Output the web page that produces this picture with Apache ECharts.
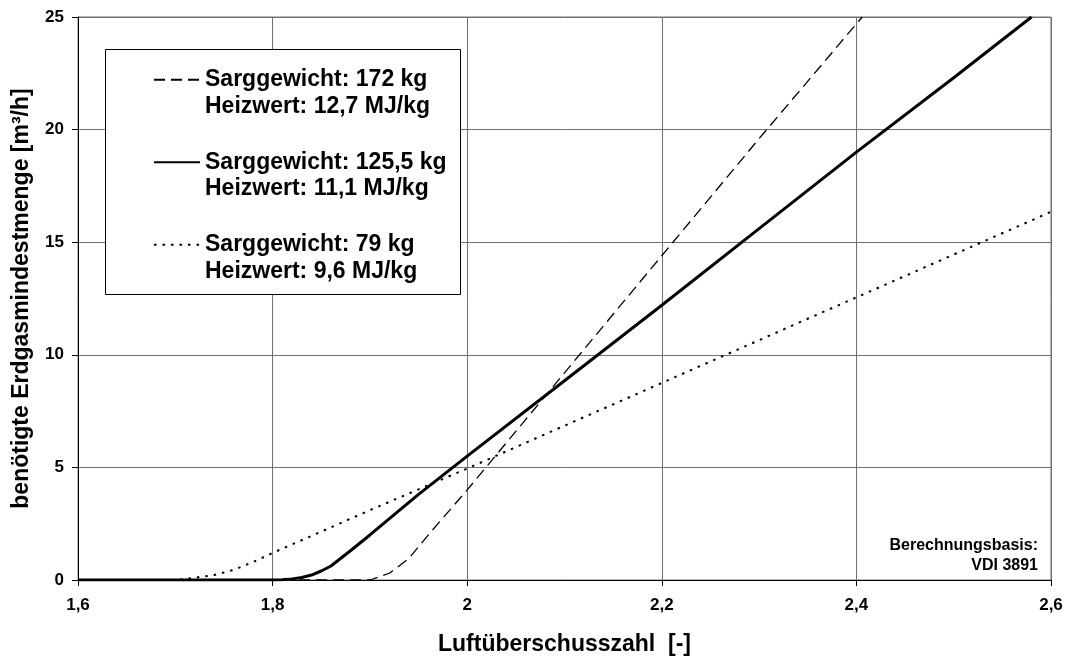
<!DOCTYPE html>
<html>
<head>
<meta charset="utf-8">
<script src="https://cdn.jsdelivr.net/npm/echarts@6/dist/echarts.min.js"></script>
<style>
  html, body { margin: 0; padding: 0; background: #fff; }
  #chart { width: 1068px; height: 661px; }
</style>
</head>
<body>
<div id="chart"></div>
<script>
// Luftüberschusszahl (x) against required natural gas flow (y) for three coffin loads
const xTicks = [1.6, 1.8, 2.0, 2.2, 2.4, 2.6];
const yTicks = [0, 5, 10, 15, 20, 25];

const seriesNames = [
  'Sarggewicht: 172 kg\nHeizwert: 12,7 MJ/kg',
  'Sarggewicht: 125,5 kg\nHeizwert: 11,1 MJ/kg',
  'Sarggewicht: 79 kg\nHeizwert: 9,6 MJ/kg'
];

// 172 kg, 12,7 MJ/kg
const heavyX = [1.6, 1.9, 1.92, 1.94, 1.96, 1.98, 2.0, 2.1, 2.2, 2.3, 2.406];
const heavyY = [0, 0, 0.3, 0.95, 2.0, 3.0, 4.0, 9.2, 14.4, 19.6, 25];

// 125,5 kg, 11,1 MJ/kg
const mediumX = [1.6, 1.8, 1.81, 1.82, 1.83, 1.84, 1.85, 1.86, 1.88, 1.9, 1.95, 2.0, 2.1, 2.2, 2.3, 2.4, 2.5, 2.58];
const mediumY = [0, 0, 0.01, 0.05, 0.11, 0.22, 0.4, 0.62, 1.3, 2.0, 3.8, 5.5, 8.85, 12.2, 15.6, 19.0, 22.3, 25];

// 79 kg, 9,6 MJ/kg
const lightX = [1.6, 1.7, 1.72, 1.74, 1.76, 1.78, 1.8, 1.9, 2.0, 2.1, 2.2, 2.3, 2.4, 2.5, 2.6];
const lightY = [0, 0, 0.1, 0.22, 0.45, 0.8, 1.2, 3.1, 4.95, 6.85, 8.75, 10.65, 12.55, 14.45, 16.35];

const noteLines = ['Berechnungsbasis:', 'VDI 3891'];

const FONT = '"Liberation Sans", Arial, sans-serif';
const GRID_COLOR = '#707070';

function pairs(xs, ys) { return xs.map((x, i) => [x, ys[i]]); }
function fmtDecimal(v) { return String(+v.toFixed(1)).replace('.', ','); }

const chart = echarts.init(document.getElementById('chart'), null, { renderer: 'canvas' });

chart.setOption({
  animation: false,
  backgroundColor: '#fff',
  textStyle: { fontFamily: FONT, color: '#000' },
  grid: {
    left: 78, right: 17, top: 17, bottom: 76,
    show: true, borderColor: GRID_COLOR, borderWidth: 1, backgroundColor: 'transparent'
  },
  xAxis: {
    type: 'value',
    min: xTicks[0], max: xTicks[xTicks.length - 1], interval: 0.2,
    name: 'Luftüberschusszahl  [-]',
    nameLocation: 'middle', nameGap: 53,
    nameTextStyle: { fontFamily: FONT, fontWeight: 'bold', fontSize: 23, color: '#000' },
    axisLine: { show: true, lineStyle: { color: '#000', width: 1 } },
    axisTick: { show: true, inside: false, length: 6, lineStyle: { color: '#000' } },
    axisLabel: { formatter: fmtDecimal, fontFamily: FONT, fontWeight: 'bold', fontSize: 17, color: '#000', margin: 17 },
    splitLine: { show: true, lineStyle: { color: GRID_COLOR, width: 1 } }
  },
  yAxis: {
    type: 'value',
    min: yTicks[0], max: yTicks[yTicks.length - 1], interval: 5,
    name: 'benötigte Erdgasmindestmenge [m³/h]',
    nameLocation: 'middle', nameGap: 45, nameRotate: 90,
    nameTextStyle: { fontFamily: FONT, fontWeight: 'bold', fontSize: 23, color: '#000' },
    axisLine: { show: true, lineStyle: { color: '#000', width: 1 } },
    axisTick: { show: true, inside: false, length: 6, lineStyle: { color: '#000' } },
    axisLabel: { fontFamily: FONT, fontWeight: 'bold', fontSize: 17, color: '#000', margin: 14 },
    splitLine: { show: true, lineStyle: { color: GRID_COLOR, width: 1 } }
  },
  legend: {
    show: true,
    z: 10,
    orient: 'vertical',
    left: 153, top: 40,
    padding: 0,
    itemWidth: 46, itemHeight: 14, itemGap: 3,
    selectedMode: false,
    data: seriesNames,
    // a blank first line keeps the line sample level with the first text line
    formatter: name => ' \n' + name,
    itemStyle: { opacity: 0 },
    textStyle: {
      fontFamily: FONT, fontWeight: 'bold', fontSize: 23, color: '#000',
      lineHeight: 26.5
    }
  },
  graphic: [
    {
      type: 'rect', left: 105, top: 49, z: 5,
      shape: { width: 355, height: 245 },
      style: { fill: '#fff', stroke: '#000', lineWidth: 1 }
    },
    {
      type: 'text', x: 1038, y: 546, z: 6,
      style: {
        text: noteLines[0], align: 'right', verticalAlign: 'middle',
        font: 'bold 16px ' + FONT, fill: '#000'
      }
    },
    {
      type: 'text', x: 1038, y: 566, z: 6,
      style: {
        text: noteLines[1], align: 'right', verticalAlign: 'middle',
        font: 'bold 16px ' + FONT, fill: '#000'
      }
    }
  ],
  series: [
    {
      name: seriesNames[0], type: 'line', showSymbol: false, symbol: 'none',
      data: pairs(heavyX, heavyY), z: 2,
      itemStyle: { color: '#000' },
      lineStyle: { color: '#000', width: 1.3, type: [11, 6] }
    },
    {
      name: seriesNames[1], type: 'line', showSymbol: false, symbol: 'none',
      data: pairs(mediumX, mediumY), z: 2,
      itemStyle: { color: '#000' },
      lineStyle: { color: '#000', width: 3 }
    },
    {
      name: seriesNames[2], type: 'line', showSymbol: false, symbol: 'none',
      data: pairs(lightX, lightY), z: 2,
      itemStyle: { color: '#000' },
      lineStyle: { color: '#000', width: 2, type: [2.5, 6] }
    }
  ]
});
</script>
</body>
</html>
